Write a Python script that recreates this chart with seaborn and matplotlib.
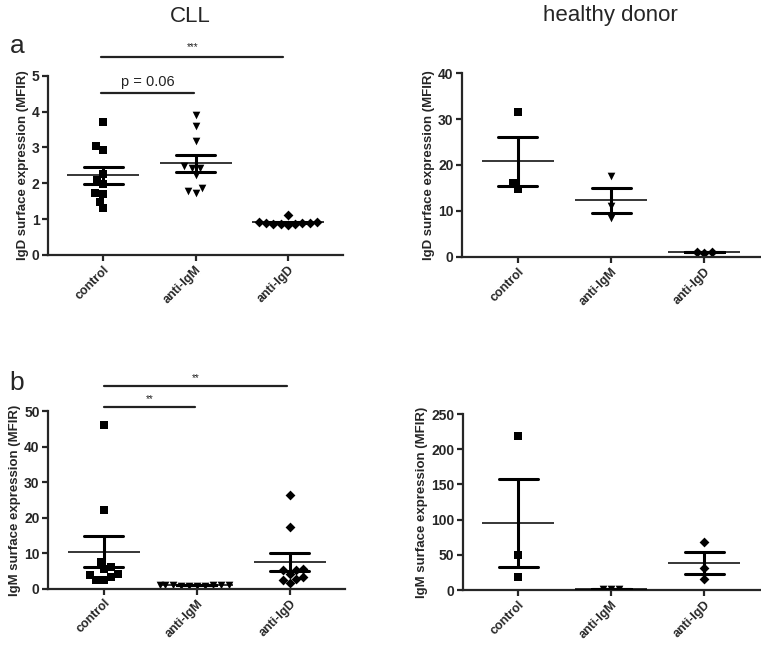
import numpy as np
import pandas as pd
import matplotlib
matplotlib.use('Agg')
import matplotlib.pyplot as plt
import seaborn as sns

sns.set_style('ticks')
plt.rcParams['font.family'] = ['Liberation Sans', 'DejaVu Sans']

groups = ['control', 'anti-IgM', 'anti-IgD']
markers = {'control': 's', 'anti-IgM': 'v', 'anti-IgD': 'D'}

# panel a, IgD surface expression
cll_igd_control = [3.70, 3.04, 2.93, 2.26, 2.09, 1.97, 1.72, 1.70, 1.49, 1.30]
cll_igd_antiigm = [3.91, 3.60, 3.17, 2.47, 2.42, 2.42, 2.23, 1.86, 1.72, 1.77]
cll_igd_antiigd = [0.93, 0.90, 0.87, 0.85, 0.88, 0.86, 1.12, 0.84, 0.90, 0.91]
hd_igd_control = [31.6, 16.0, 14.7]
hd_igd_antiigm = [17.6, 11.0, 8.5]
hd_igd_antiigd = [1.1, 0.9, 1.1]

# panel b, IgM surface expression
cll_igm_control = [46.2, 22.1, 7.6, 6.2, 5.6, 4.2, 4.0, 3.3, 2.6, 2.4]
cll_igm_antiigm = [1.0, 0.9, 1.1, 0.8, 1.0, 1.2, 0.9, 1.0, 1.1, 0.9]
cll_igm_antiigd = [26.4, 17.4, 5.5, 5.2, 5.2, 4.2, 3.4, 2.8, 2.4, 1.7]
hd_igm_control = [219, 49.7, 18]
hd_igm_antiigm = [1.5, 1.5, 1.5]
hd_igm_antiigd = [68.7, 31.7, 15.6]


def to_frame(control, antiigm, antiigd):
    rows = []
    for g, vals in zip(groups, [control, antiigm, antiigd]):
        for v in vals:
            rows.append({'group': g, 'value': v})
    return pd.DataFrame(rows)


def draw_panel(ax, df, ylim, yticks, ylabel, msize):
    for g in groups:
        sub = df[df['group'] == g]
        sns.swarmplot(data=sub, x='group', y='value', order=groups, ax=ax,
                      marker=markers[g], color='black', size=msize if g != 'anti-IgD' else msize - 0.5,
                      linewidth=0, zorder=2)
    # mean +/- SEM
    sns.pointplot(data=df, x='group', y='value', order=groups, ax=ax,
                  errorbar='se', capsize=0.42, linestyle='none', marker='_',
                  markersize=52, markeredgewidth=1.1, color='black',
                  err_kws={'linewidth': 2.2}, zorder=3)
    ax.set_xlim(-0.6, 2.6)
    ax.set_ylim(*ylim)
    ax.set_yticks(yticks)
    ax.set_xlabel('')
    ax.set_ylabel(ylabel, fontsize=9.5, fontweight='bold', labelpad=2)
    for s in ['top', 'right']:
        ax.spines[s].set_visible(False)
    for s in ['left', 'bottom']:
        ax.spines[s].set_linewidth(1.6)
    ax.tick_params(axis='both', width=1.6, length=4, labelsize=10, pad=2)
    ax.set_xticks(range(3))
    ax.set_xticklabels(groups, rotation=45, ha='right', rotation_mode='anchor',
                       fontweight='bold', fontsize=9)
    for lab in ax.get_yticklabels():
        lab.set_fontweight('bold')


def sig_bar(ax, x0, x1, y, text, fs, dy):
    ax.plot([x0, x1], [y, y], color='#222222', lw=1.6, clip_on=False)
    ax.text((x0 + x1) / 2, y + dy, text, ha='center', va='bottom', fontsize=fs, color='#222222')


fig = plt.figure(figsize=(7.61, 6.47), dpi=100)
ax1 = fig.add_axes([0.063, 0.606, 0.388, 0.277])
ax2 = fig.add_axes([0.607, 0.603, 0.392, 0.284])
ax3 = fig.add_axes([0.063, 0.090, 0.391, 0.274])
ax4 = fig.add_axes([0.608, 0.088, 0.391, 0.272])

draw_panel(ax1, to_frame(cll_igd_control, cll_igd_antiigm, cll_igd_antiigd),
           (0, 5), [0, 1, 2, 3, 4, 5], 'IgD surface expression (MFIR)', 5.5)
draw_panel(ax2, to_frame(hd_igd_control, hd_igd_antiigm, hd_igd_antiigd),
           (0, 40), [0, 10, 20, 30, 40], 'IgD surface expression (MFIR)', 5.5)
draw_panel(ax3, to_frame(cll_igm_control, cll_igm_antiigm, cll_igm_antiigd),
           (0, 50), [0, 10, 20, 30, 40, 50], 'IgM surface expression (MFIR)', 5.5)
draw_panel(ax4, to_frame(hd_igm_control, hd_igm_antiigm, hd_igm_antiigd),
           (0, 250), [0, 50, 100, 150, 200, 250], 'IgM surface expression (MFIR)', 5.5)

sig_bar(ax1, -0.02, 0.98, 4.52, 'p = 0.06', 10.5, 0.1)
sig_bar(ax1, -0.02, 1.95, 5.53, '***', 7, 0.12)
sig_bar(ax3, 0.0, 0.98, 51.4, '**', 7, 0.8)
sig_bar(ax3, 0.0, 1.97, 57.2, '**', 7, 0.8)

fig.text(190 / 761, 1 - 16 / 647, 'CLL', ha='center', va='center', fontsize=16)
fig.text(610 / 761, 1 - 16 / 647, 'healthy donor', ha='center', va='center', fontsize=16)
fig.text(17 / 761, 1 - 46 / 647, 'a', ha='center', va='center', fontsize=19)
fig.text(17 / 761, 1 - 383 / 647, 'b', ha='center', va='center', fontsize=19)

fig.savefig('out.png', dpi=100)
